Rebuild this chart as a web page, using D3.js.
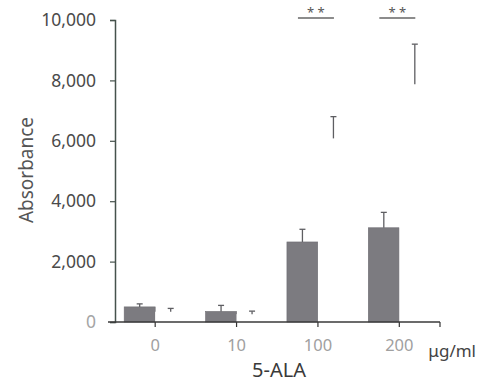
<!DOCTYPE html>
<html>
<head>
<meta charset="utf-8">
<script src="https://cdn.jsdelivr.net/npm/d3@7"></script>
<style>
  body { margin: 0; background: #fff; }
  svg { display: block; font-family: "Noto Sans", sans-serif; }
</style>
</head>
<body>
<svg width="482" height="391"></svg>
<script>
var doses = ['0', '10', '100', '200'];
var grayMean = [500, 350, 2650, 3120];
var grayErr = [100, 200, 420, 510];
var whiteMean = [340, 260, 6080, 7870];
var whiteErr = [110, 100, 720, 1330];
var yTicks = [0, 2000, 4000, 6000, 8000, 10000];
var sigDoses = ['100', '200'];

var svg = d3.select('svg');
var axisColor = '#46524c';

var x = d3.scaleBand()
    .domain(doses)
    .range([114.5, 440])
    .paddingInner(0.238)
    .paddingOuter(0.119);

var y = d3.scaleLinear()
    .domain([0, 10000])
    .range([322, 20]);

var half = x.bandwidth() / 2;

// bars
var groups = doses.map((d, i) => ({
    dose: d,
    gray: grayMean[i], grayErr: grayErr[i],
    white: whiteMean[i], whiteErr: whiteErr[i]
}));

svg.selectAll('rect.gray')
    .data(groups)
    .enter().append('rect')
    .attr('class', 'gray')
    .attr('x', d => x(d.dose))
    .attr('width', half)
    .attr('y', d => y(d.gray))
    .attr('height', d => y(0) - y(d.gray))
    .attr('fill', '#7c7b80')
    .attr('stroke', '#6e6d72')
    .attr('stroke-width', 0.6);

svg.selectAll('rect.white')
    .data(groups)
    .enter().append('rect')
    .attr('class', 'white')
    .attr('x', d => x(d.dose) + half)
    .attr('width', half)
    .attr('y', d => y(d.white))
    .attr('height', d => y(0) - y(d.white))
    .attr('fill', '#fff');

// error bars (upper half only)
function errorBars(cls, cx, mean, err) {
    var g = svg.selectAll('g.' + cls)
        .data(groups)
        .enter().append('g')
        .attr('class', cls)
        .attr('stroke', '#5e5e62')
        .attr('stroke-width', 1.3);
    g.append('line')
        .attr('x1', cx).attr('x2', cx)
        .attr('y1', d => y(mean(d)))
        .attr('y2', d => y(mean(d) + err(d)));
    g.append('line')
        .attr('x1', d => cx(d) - 3).attr('x2', d => cx(d) + 3)
        .attr('y1', d => y(mean(d) + err(d)))
        .attr('y2', d => y(mean(d) + err(d)));
}
errorBars('egray', d => x(d.dose) + half / 2, d => d.gray, d => d.grayErr);
errorBars('ewhite', d => x(d.dose) + half * 1.5, d => d.white, d => d.whiteErr);

// y axis
var yAxis = svg.append('g')
    .attr('transform', 'translate(115,0)')
    .call(d3.axisLeft(y).tickValues(yTicks).tickSize(5).tickPadding(14)
        .tickFormat(d3.format(',')));
yAxis.select('.domain').attr('stroke', axisColor).attr('stroke-width', 1.5);
yAxis.selectAll('.tick line').attr('stroke', axisColor).attr('stroke-width', 1.2);
yAxis.selectAll('.tick text')
    .attr('font-size', 17.5)
    .attr('font-family', '"Noto Sans", sans-serif')
    .attr('fill', d => d === 0 ? '#a5a5a5' : '#4a4a4a');

// x axis
var xAxis = svg.append('g')
    .attr('transform', 'translate(0,322)')
    .call(d3.axisBottom(x).tickSize(5).tickPadding(12));
xAxis.select('.domain').remove();
xAxis.selectAll('.tick line').attr('stroke', '#333').attr('stroke-width', 1.2);
xAxis.selectAll('.tick text')
    .attr('font-size', 16.5)
    .attr('font-family', '"Noto Sans", sans-serif')
    .attr('fill', '#a0a0a0');
xAxis.append('line')
    .attr('x1', 108).attr('x2', 440)
    .attr('stroke', '#3a3a3a').attr('stroke-width', 1.3);
xAxis.append('line')
    .attr('x1', 440).attr('x2', 440)
    .attr('y1', 0).attr('y2', 5)
    .attr('stroke', '#333').attr('stroke-width', 1.2);

// significance marks
var sig = svg.selectAll('g.sig')
    .data(sigDoses)
    .enter().append('g')
    .attr('class', 'sig')
    .attr('transform', d => 'translate(' + (x(d) + half - 2) + ',0)');
sig.append('line')
    .attr('x1', -18).attr('x2', 18)
    .attr('y1', 18).attr('y2', 18)
    .attr('stroke', '#666').attr('stroke-width', 1.5);
sig.append('text')
    .attr('y', 17)
    .attr('text-anchor', 'middle')
    .attr('font-size', 13)
    .attr('fill', '#555')
    .text('* *');

// labels
svg.append('text')
    .attr('transform', 'translate(33,170) rotate(-90)')
    .attr('text-anchor', 'middle')
    .attr('font-size', 19)
    .attr('textLength', 106)
    .attr('lengthAdjust', 'spacingAndGlyphs')
    .attr('fill', '#555')
    .text('Absorbance');

svg.append('text')
    .attr('x', 279).attr('y', 377)
    .attr('text-anchor', 'middle')
    .attr('font-size', 20)
    .attr('fill', '#3a3a3a')
    .text('5-ALA');

svg.append('text')
    .attr('x', 476).attr('y', 357)
    .attr('text-anchor', 'end')
    .attr('font-size', 17)
    .attr('fill', '#444')
    .text('μg/ml');
</script>
</body>
</html>
